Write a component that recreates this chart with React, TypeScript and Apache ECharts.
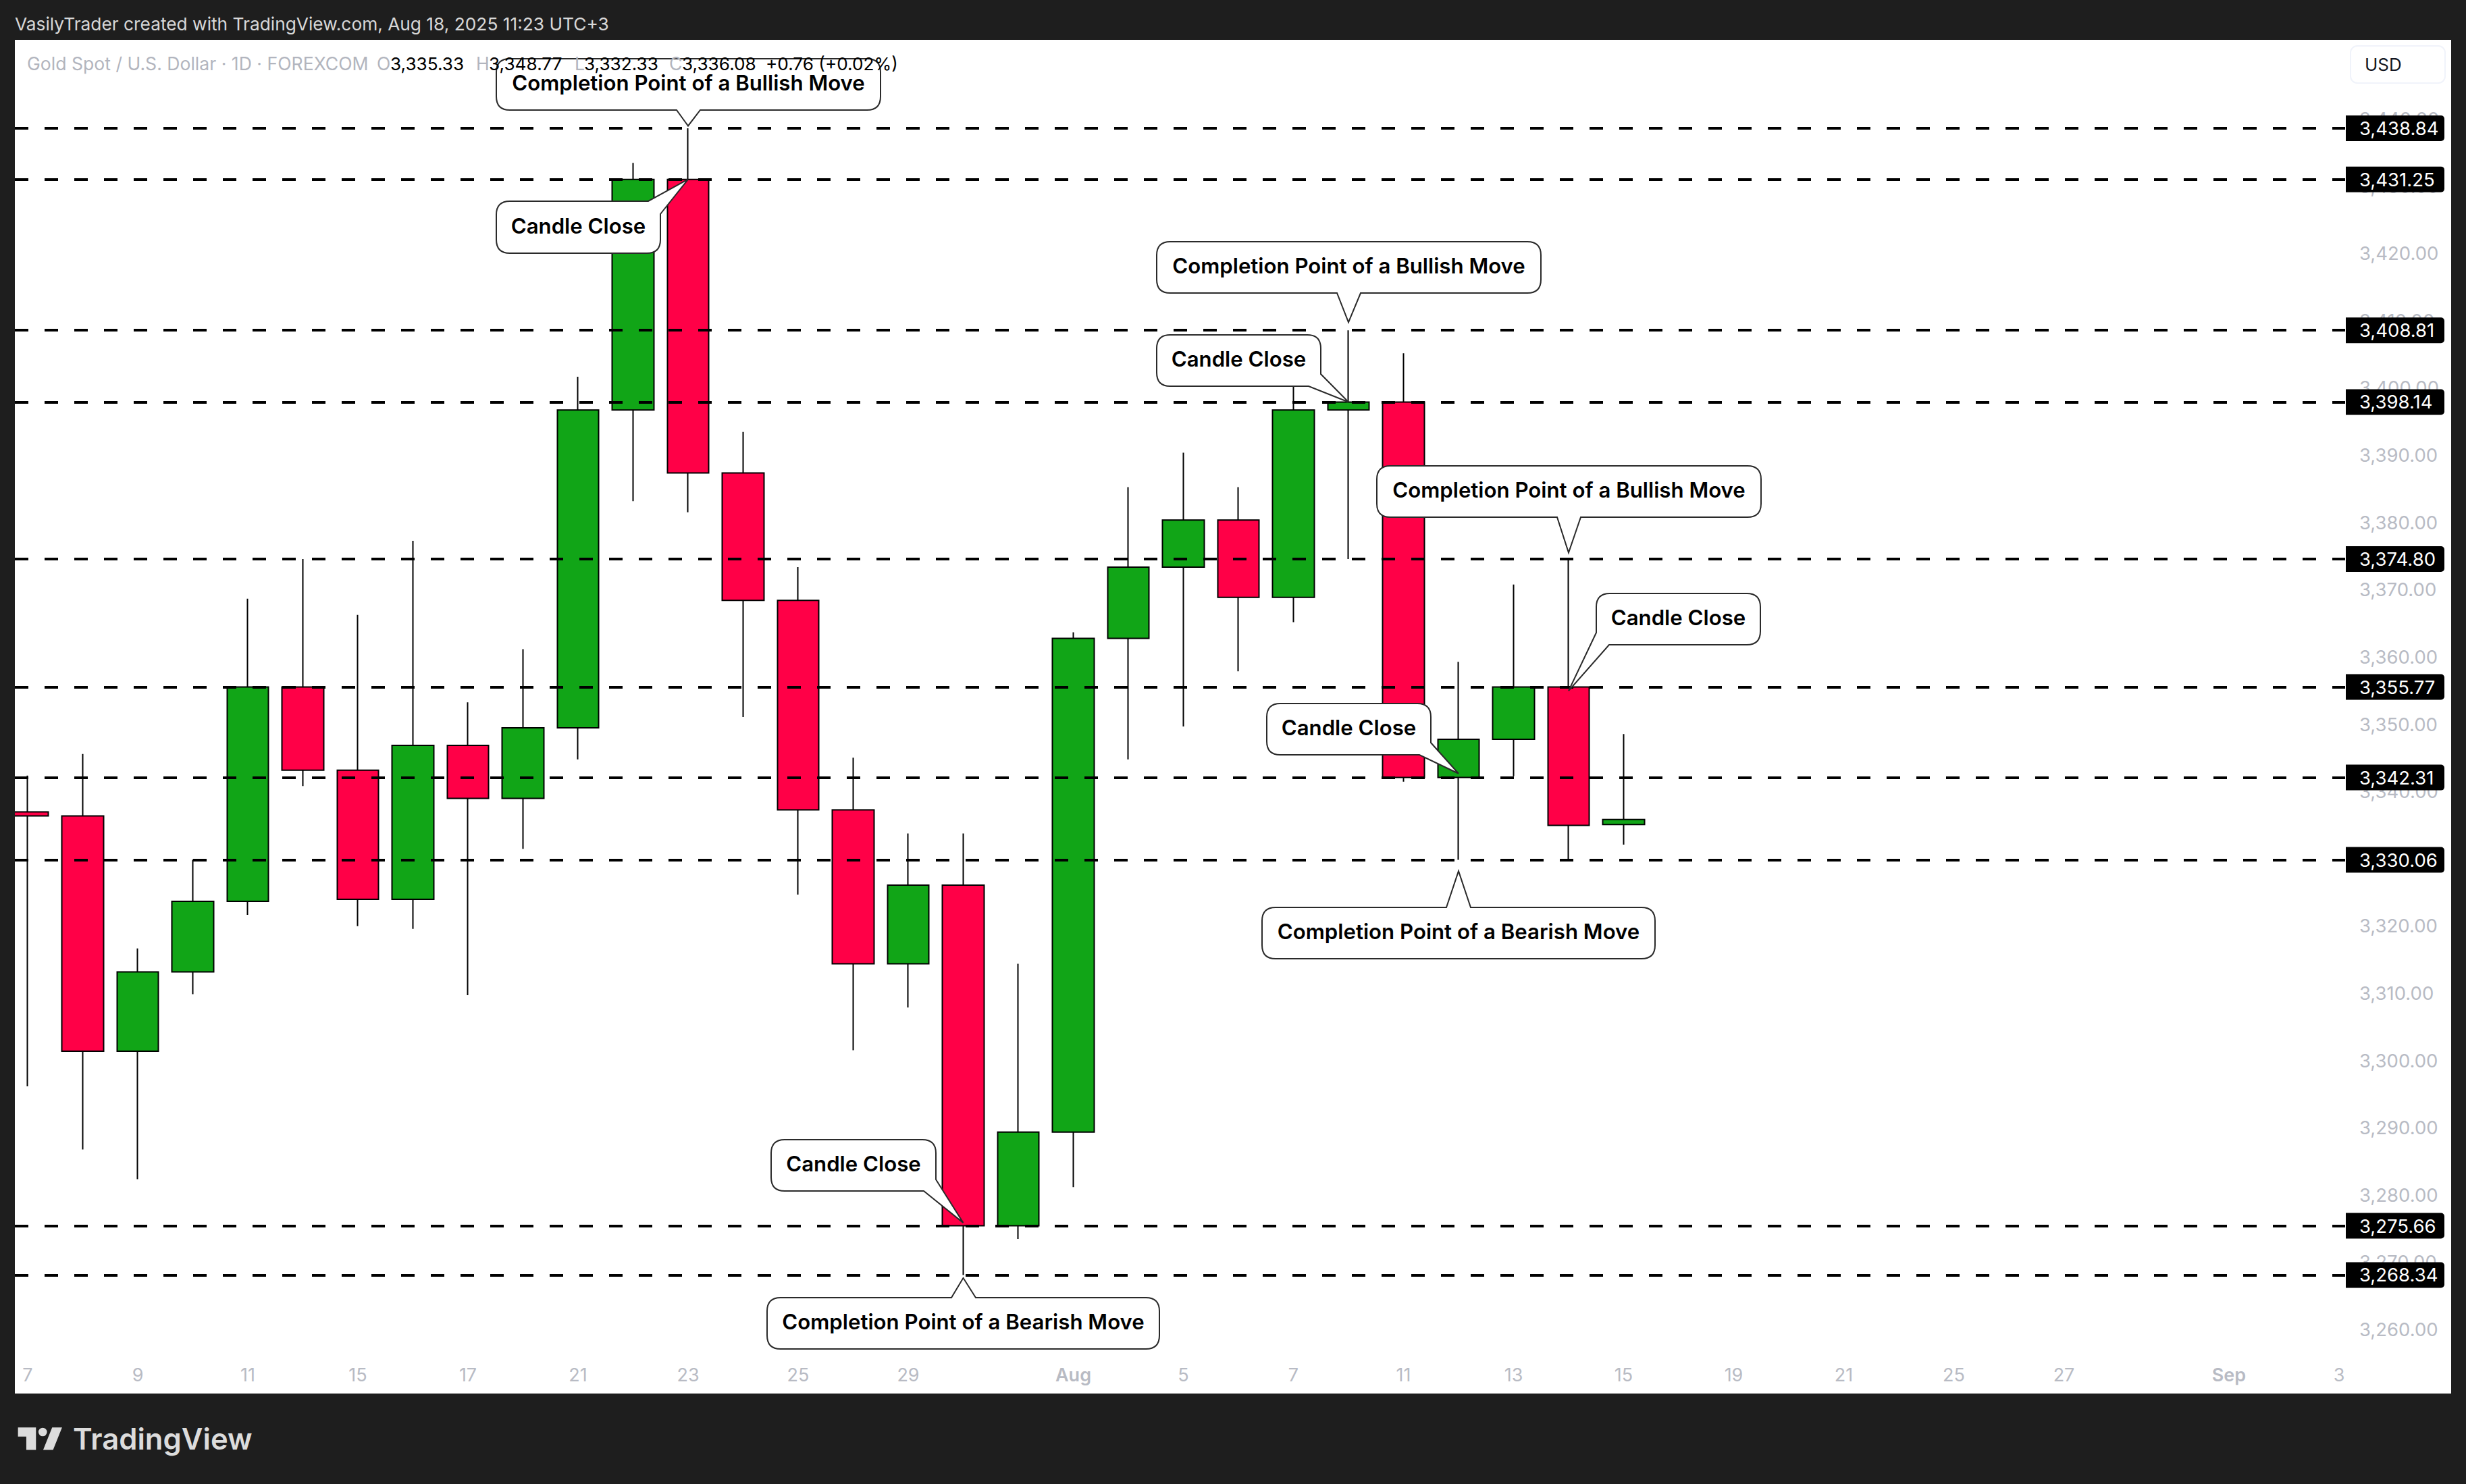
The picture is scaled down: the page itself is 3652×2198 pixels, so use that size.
import { useEffect, useRef } from "react";
import * as echarts from "echarts";

// chart values
const opens = [3337.2, 3336.6, 3301.6, 3313.4, 3323.9, 3355.77, 3343.4, 3324.2, 3347.1, 3339.2, 3349.7, 3396.95, 3431.25, 3387.6, 3368.65, 3337.5, 3314.6, 3326.3, 3275.66, 3289.6, 3363.0, 3373.6, 3380.6, 3369.1, 3396.95, 3398.14, 3342.31, 3348.0, 3355.77, 3335.33];
const closes = [3336.6, 3301.6, 3313.4, 3323.9, 3355.77, 3343.4, 3324.2, 3347.1, 3339.2, 3349.7, 3396.95, 3431.25, 3387.6, 3368.65, 3337.5, 3314.6, 3326.3, 3275.66, 3289.6, 3363.0, 3373.6, 3380.6, 3369.1, 3396.95, 3398.14, 3342.31, 3348.0, 3355.77, 3335.2, 3336.08];
const lows = [3296.4, 3287.0, 3282.6, 3310.1, 3321.9, 3341.05, 3320.2, 3319.8, 3309.95, 3331.7, 3345.0, 3383.4, 3381.75, 3351.3, 3324.9, 3301.77, 3308.1, 3268.34, 3273.7, 3281.4, 3345.0, 3349.9, 3358.1, 3365.4, 3374.8, 3341.7, 3330.06, 3342.5, 3330.06, 3332.33];
const highs = [3342.6, 3345.8, 3316.9, 3330.1, 3368.9, 3374.8, 3366.5, 3377.5, 3353.5, 3361.4, 3401.9, 3433.7, 3438.84, 3393.7, 3373.6, 3345.25, 3334.0, 3334.0, 3314.6, 3363.9, 3385.5, 3390.6, 3385.5, 3405.4, 3408.81, 3405.4, 3359.5, 3371.0, 3374.8, 3348.77];

const levels = [3438.84, 3431.25, 3408.81, 3398.14, 3374.8, 3355.77, 3342.31, 3330.06, 3275.66, 3268.34];
const lastPrice = 3336.08;

const xTickBars = [0, 2, 4, 6, 8, 10, 12, 14, 16, 19, 21, 23, 25, 27, 29, 31, 33, 35, 37, 40, 42];
const xTickLabels = ["7", "9", "11", "15", "17", "21", "23", "25", "29", "Aug", "5", "7", "11", "13", "15", "19", "21", "25", "27", "Sep", "3"];

const calloutTexts = [
  "Completion Point of a Bullish Move",
  "Candle Close",
  "Completion Point of a Bullish Move",
  "Candle Close",
  "Completion Point of a Bullish Move",
  "Candle Close",
  "Candle Close",
  "Completion Point of a Bearish Move",
  "Candle Close",
  "Completion Point of a Bearish Move",
];
const calloutBars = [12, 12, 24, 24, 28, 28, 26, 26, 17, 17];
const calloutPrices = [3439.2, 3431.25, 3410.0, 3398.14, 3375.75, 3355.2, 3342.9, 3328.4, 3276.1, 3267.9];

// box of each callout in page pixels and where its tail leaves the box
const calloutBoxes = [
  { x: 735, y: 87, w: 569, h: 76, side: "bottom", a: 1002, b: 1037 },
  { x: 735, y: 298, w: 243, h: 77, side: "topRight", a: 960, b: 317 },
  { x: 1713, y: 358, w: 569, h: 76, side: "bottom", a: 1980, b: 2015 },
  { x: 1713, y: 496, w: 243, h: 76, side: "bottomRight", a: 554, b: 1938 },
  { x: 2039, y: 690, w: 569, h: 76, side: "bottom", a: 2306, b: 2341 },
  { x: 2364, y: 879, w: 243, h: 76, side: "bottomLeft", a: 2383, b: 937 },
  { x: 1876, y: 1042, w: 243, h: 76, side: "bottomRight", a: 1100, b: 2102 },
  { x: 1869, y: 1344, w: 582, h: 76, side: "top", a: 2142, b: 2178 },
  { x: 1142, y: 1688, w: 244, h: 76, side: "bottomRight", a: 1747, b: 1368 },
  { x: 1136, y: 1922, w: 581, h: 76, side: "top", a: 1409, b: 1445 },
];

const legendTexts = ["Gold Spot / U.S. Dollar · 1D · FOREXCOM", "O", "H", "L", "C"];
const legendTextX = [40, 558, 705, 851, 991];
const legendValues = ["3,335.33", "3,348.77", "3,332.33", "3,336.08", "+0.76 (+0.02%)"];
const legendValueX = [578, 724, 865, 1010, 1134];

const FONT = "Inter";
const GREEN = "#11A517";
const RED = "#FF0047";
const GRAY = "#B8BBC4";
const FRAME = "#1E1E1E";

const money = (v: number) =>
  v.toLocaleString("en-US", { minimumFractionDigits: 2, maximumFractionDigits: 2 });

const calloutPath = (box: any, tip: number[]) => {
  const r = 20;
  const left = box.x;
  const top = box.y;
  const right = box.x + box.w;
  const bottom = box.y + box.h;
  const [tx, ty] = tip;
  let d = `M${left + r} ${top}`;
  if (box.side === "top") d += `L${box.a} ${top}L${tx} ${ty}L${box.b} ${top}`;
  if (box.side === "topRight") {
    d += `L${box.a} ${top}L${tx} ${ty}L${right} ${box.b}`;
  } else {
    d += `L${right - r} ${top}Q${right} ${top} ${right} ${top + r}`;
  }
  if (box.side === "bottomRight") {
    d += `L${right} ${box.a}L${tx} ${ty}L${box.b} ${bottom}`;
  } else {
    d += `L${right} ${bottom - r}Q${right} ${bottom} ${right - r} ${bottom}`;
  }
  if (box.side === "bottom") d += `L${box.b} ${bottom}L${tx} ${ty}L${box.a} ${bottom}`;
  if (box.side === "bottomLeft") {
    d += `L${box.a} ${bottom}L${tx} ${ty}L${left} ${box.b}`;
  } else {
    d += `L${left + r} ${bottom}Q${left} ${bottom} ${left} ${bottom - r}`;
  }
  d += `L${left} ${top + r}Q${left} ${top} ${left + r} ${top}Z`;
  return d;
};

const renderCallout = (params: any, api: any) => {
  const i = params.dataIndex;
  const box = calloutBoxes[i];
  const tip = api.coord([api.value(0), api.value(1)]);
  return {
    type: "group",
    children: [
      {
        type: "path",
        shape: { pathData: calloutPath(box, tip) },
        style: { fill: "#ffffff", stroke: "#2a2a2a", lineWidth: 2 },
      },
      {
        type: "text",
        style: {
          text: calloutTexts[i],
          x: box.x + box.w / 2,
          y: box.y + box.h / 2 - 2,
          align: "center",
          verticalAlign: "middle",
          fontFamily: FONT,
          fontWeight: 600,
          fontSize: 31.2,
          fill: "#000000",
        },
      },
    ],
  };
};

const levelLabel = (background: string) => ({
  show: true,
  position: "end",
  distance: 1,
  formatter: (p: any) => money(p.value),
  color: "#ffffff",
  fontFamily: FONT,
  fontSize: 27.5,
  backgroundColor: background,
  borderRadius: [0, 5, 5, 0],
  width: 126,
  height: 38,
  // a line shorter than the box lifts the text a little above the box centre
  lineHeight: 34,
  padding: [0, 0, 0, 20],
  align: "left",
});

const App = () => {
  const chartRef = useRef<HTMLDivElement>(null);

  useEffect(() => {
    if (!chartRef.current) return;
    echarts.graphic.registerShape(
      "tvlogo",
      echarts.graphic.extendPath(
        "M80 73H160V173H117V113H80Z M232 73H276L236 173H192Z M209 93A19 19 0 1 1 171 93A19 19 0 1 1 209 93Z",
        {}
      )
    );
    const chart = echarts.init(chartRef.current, null, { renderer: "svg" });

    const headerText = (text: string, x: number, y: number, fill: string, extra = {}) => ({
      type: "text",
      z: 100,
      style: { text, x, y, fill, fontFamily: FONT, fontSize: 26.3, verticalAlign: "middle", ...extra },
    });

    chart.setOption({
      animation: false,
      backgroundColor: FRAME,
      grid: { left: 22, right: 179, top: 178.5, bottom: 226.5 },
      xAxis: {
        type: "value",
        min: (22 - 41) / 81.5,
        max: (3473 - 41) / 81.5,
        splitLine: { show: false },
        axisLine: { show: false },
        axisTick: { show: false },
        axisLabel: {
          customValues: xTickBars,
          formatter: (v: number) => {
            const label = xTickLabels[xTickBars.indexOf(Math.round(v))];
            return label === "Aug" || label === "Sep" ? `{b|${label}}` : label;
          },
          color: GRAY,
          fontFamily: FONT,
          fontSize: 27,
          margin: 51,
          rich: { b: { color: GRAY, fontFamily: FONT, fontSize: 27, fontWeight: 600 } },
        },
      },
      yAxis: {
        type: "value",
        position: "right",
        min: 3260,
        max: 3440,
        interval: 10,
        splitLine: { show: false },
        axisLine: { show: false },
        axisTick: { show: false },
        axisLabel: {
          formatter: (v: number) => money(v),
          color: GRAY,
          fontFamily: FONT,
          fontSize: 27.5,
          margin: 21,
          // the tick texts sit about 2px above their price
          verticalAlign: "bottom",
          lineHeight: 5,
        },
      },
      series: [
        {
          type: "candlestick",
          barWidth: 62,
          clip: true,
          data: opens.map((o, i) => [i, o, closes[i], lows[i], highs[i]]),
          itemStyle: {
            color: GREEN,
            color0: RED,
            borderColor: "#000000",
            borderColor0: "#000000",
            borderWidth: 2,
          },
          markLine: {
            silent: true,
            symbol: "none",
            z: 5,
            lineStyle: { color: "#000000", width: 4, type: [20, 24] },
            label: levelLabel("#000000"),
            data: [
              ...levels.map((v) => ({ yAxis: v })),
              {
                yAxis: lastPrice,
                lineStyle: { opacity: 0 },
                label: levelLabel(GREEN),
              },
            ],
          },
        },
        {
          type: "custom",
          z: 10,
          clip: false,
          renderItem: renderCallout,
          encode: { x: 0, y: 1 },
          data: calloutBars.map((b, i) => [b, calloutPrices[i]]),
        },
      ],
      graphic: [
        { type: "rect", z: -1, shape: { x: 22, y: 59, width: 3608, height: 2005 }, style: { fill: "#ffffff" } },
        // left strip of the frame, the first candle runs under it
        { type: "rect", z: 50, shape: { x: 0, y: 59, width: 22, height: 2005 }, style: { fill: FRAME } },
        headerText("VasilyTrader created with TradingView.com, Aug 18, 2025 11:23 UTC+3", 22, 35, "#D8D8D8"),
        ...legendTexts.map((t, i) => headerText(t, legendTextX[i], 94, "#B2B5BE", { fontSize: 26.6 })),
        ...legendValues.map((t, i) => headerText(t, legendValueX[i], 94, "#000000", { fontSize: 26.2 })),
        {
          type: "rect",
          z: 100,
          shape: { x: 3481, y: 68, width: 140, height: 55, r: 10 },
          style: { fill: "#ffffff", stroke: "#F0F3FA", lineWidth: 2 },
        },
        headerText("USD", 3502, 95, "#131722", { fontSize: 26 }),
        { type: "tvlogo", z: 100, x: 0, y: 2090, scaleX: 1 / 3, scaleY: 1 / 3, style: { fill: "#DCDCDC" } },
        headerText("TradingView", 108, 2131, "#DCDCDC", { fontSize: 43.6, fontWeight: 600 }),
      ],
    });

    return () => {
      chart.dispose();
    };
  }, []);

  return (
    <div
      ref={chartRef}
      style={{ position: "absolute", left: 0, top: 0, width: 3652, height: 2198 }}
    ></div>
  );
};

export default App;
